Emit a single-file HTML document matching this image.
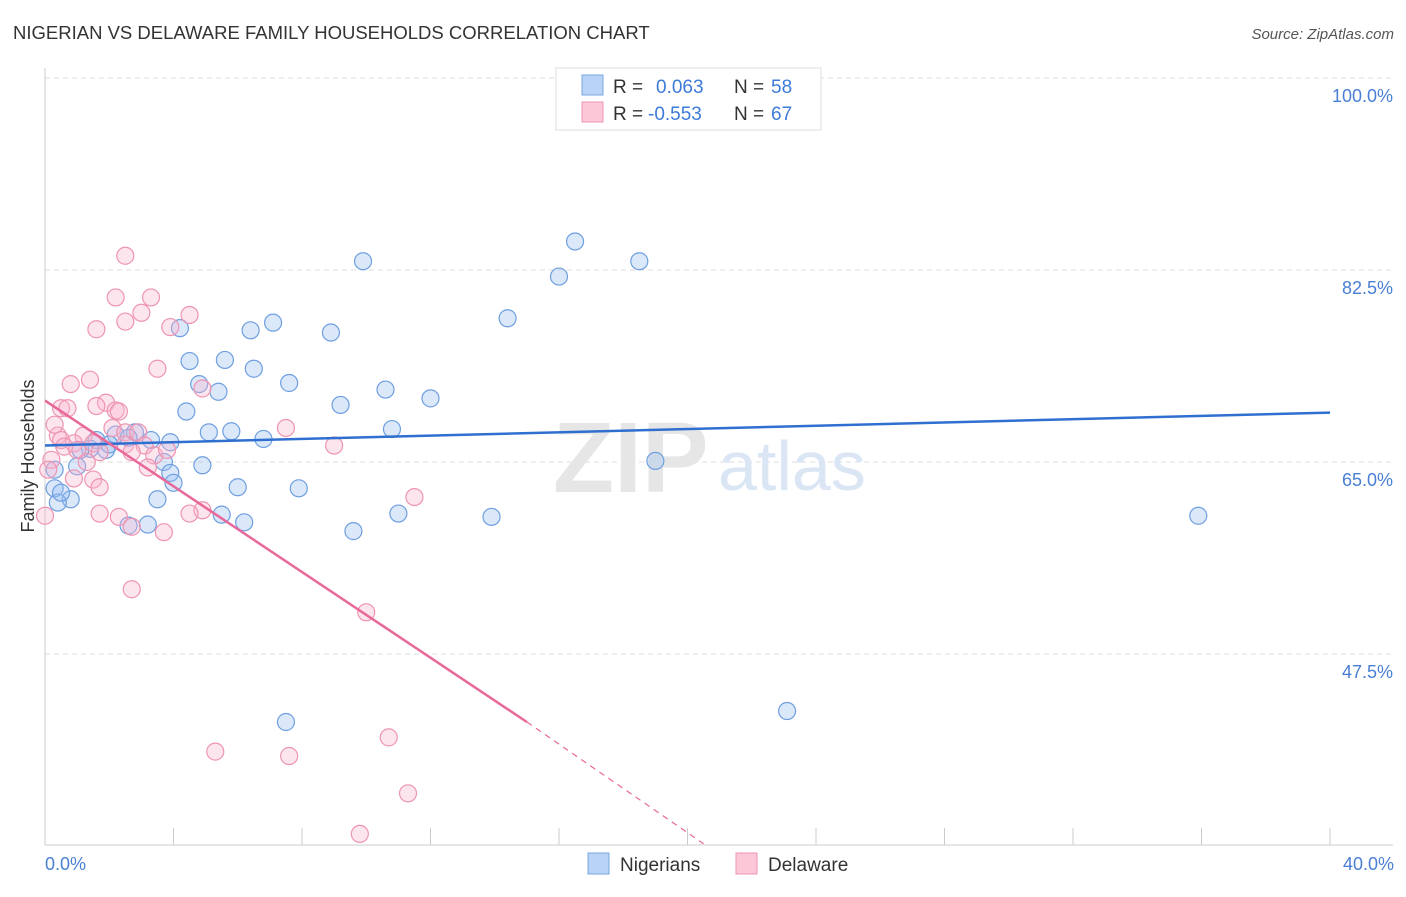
<!DOCTYPE html>
<html><head><meta charset="utf-8"><style>
body{margin:0;background:#fff;font-family:"Liberation Sans",sans-serif;}
svg text{font-family:"Liberation Sans",sans-serif;}
</style></head><body>
<svg id="chart" width="1406" height="892" xmlns="http://www.w3.org/2000/svg">
<text x="13" y="39" font-size="18.5" fill="#333">NIGERIAN VS DELAWARE FAMILY HOUSEHOLDS CORRELATION CHART</text>
<text x="1394" y="39" font-size="15" fill="#555" text-anchor="end" font-style="italic">Source: ZipAtlas.com</text>
<g id="grid"></g>
<text x="553" y="492" font-size="100" fill="#e6e6e6" font-family="Liberation Serif" font-weight="bold">ZIP</text>
<text x="718" y="490" font-size="70" fill="#dbe6f5">atlas</text>
<g id="marks"></g>
<text transform="translate(34,456) rotate(-90)" font-size="18" fill="#333" text-anchor="middle">Family Households</text>
<text x="45" y="870" font-size="18" fill="#4a7fd4">0.0%</text>
<text x="1394" y="870" font-size="18" fill="#4a7fd4" text-anchor="end">40.0%</text>
<g>
<rect x="556" y="68" width="265" height="62" fill="#fff" stroke="#ddd"/>
<rect x="582" y="75" width="21" height="20" fill="#b8d3f5" stroke="#7aa7e0"/>
<rect x="582" y="102" width="21" height="20" fill="#fcc8d8" stroke="#ee94b2"/>
<text x="613" y="93" font-size="19" fill="#333">R = </text><text x="656" y="93" font-size="19" fill="#3d7bd9">0.063</text>
<text x="734" y="93" font-size="19" fill="#333">N = </text><text x="771" y="93" font-size="19" fill="#3d7bd9">58</text>
<text x="613" y="120" font-size="19" fill="#333">R = </text><text x="648" y="120" font-size="19" fill="#3d7bd9">-0.553</text>
<text x="734" y="120" font-size="19" fill="#333">N = </text><text x="771" y="120" font-size="19" fill="#3d7bd9">67</text>
</g>
<g>
<rect x="588" y="853" width="21" height="21" fill="#b8d3f5" stroke="#7aa7e0"/>
<text x="620" y="871" font-size="19" fill="#333">Nigerians</text>
<rect x="736" y="853" width="21" height="21" fill="#fcc8d8" stroke="#ee94b2"/>
<text x="768" y="871" font-size="19" fill="#333">Delaware</text>
</g>
</svg>
<script>
const yTicks=[100,82.5,65,47.5];
const xTicks=[0,4,8,12,16,20,24,28,32,36,40];
const blueX=[16.5,18.5,9.9,16.0,14.4,4.2,6.4,7.1,8.9,4.5,5.6,6.5,4.8,7.6,5.4,10.6,12.0,9.2,4.4,10.8,5.1,5.8,6.8,3.9,3.3,2.8,2.2,1.6,1.9,1.4,3.7,4.9,3.9,1.0,0.3,4.0,6.0,7.9,0.3,0.8,0.4,3.5,5.5,6.2,11.0,13.9,2.6,3.2,9.6,19.0,35.9,7.5,23.1,2.0,1.1,0.5,2.6];
const blueY=[85.1,83.3,83.3,81.9,78.1,77.2,77.0,77.7,76.8,74.2,74.3,73.5,72.1,72.2,71.4,71.6,70.8,70.2,69.6,68.0,67.7,67.8,67.1,66.8,67.0,67.7,67.5,67.0,66.1,66.2,65.0,64.7,64.0,64.6,64.3,63.1,62.7,62.6,62.6,61.6,61.3,61.6,60.2,59.5,60.3,60.0,59.2,59.3,58.7,65.1,60.1,41.3,42.3,66.6,66.1,62.2,67.2];
const pinkX=[2.5,2.2,3.3,3.0,4.5,2.5,3.9,1.6,3.5,1.4,0.8,4.9,1.9,1.6,0.5,0.7,2.2,2.3,7.5,2.1,2.5,2.9,0.4,1.2,0.5,0.9,1.5,2.5,3.1,9.0,0.6,1.0,1.7,2.7,3.4,3.8,0.2,1.3,3.2,0.1,0.9,1.5,1.7,11.5,4.9,4.5,1.7,2.3,0.0,2.7,3.7,2.7,10.0,10.7,5.3,7.6,11.3,9.8,0.3];
const pinkY=[83.8,80.0,80.0,78.6,78.4,77.8,77.3,77.1,73.5,72.5,72.1,71.7,70.4,70.1,69.9,69.9,69.7,69.6,68.1,68.1,67.7,67.7,67.4,67.4,67.0,66.7,66.7,66.6,66.5,66.5,66.4,66.1,65.9,65.9,65.6,66.1,65.2,65.0,64.5,64.3,63.5,63.4,62.7,61.8,60.6,60.3,60.3,60.0,60.1,59.1,58.6,53.4,51.3,39.9,38.6,38.2,34.8,31.1,68.4];
const blueTrend=[66.5,69.5];
const pinkTrend=[70.6,41.3,30.2];
const pinkTrendX=[0,15,20.5];
const sx=v=>45+v/40*1285;
const sy=v=>78+(100-v)*10.971;
const NS="http://www.w3.org/2000/svg";
function mk(tag,attrs,parent){const e=document.createElementNS(NS,tag);for(const k in attrs)e.setAttribute(k,attrs[k]);parent.appendChild(e);return e;}
const grid=document.getElementById('grid');
yTicks.forEach(t=>{
 const l=mk('line',{x1:45,x2:1393,y1:sy(t),y2:sy(t),stroke:'#ddd','stroke-dasharray':'5,4'},grid);
 
 
 const tx=mk('text',{x:1393,y:sy(t)+24,'font-size':18,fill:'#4a7fd4','text-anchor':'end'},grid);
 tx.textContent=t.toFixed(1)+'%';
 
 
});
const ax=mk('line',{x1:45,x2:45,y1:68,y2:845,stroke:'#ccc'},grid);


const bx=mk('line',{x1:45,x2:1393,y1:845,y2:845,stroke:'#ccc'},grid);


xTicks.forEach(t=>{
 const l=mk('line',{x1:sx(t),x2:sx(t),y1:828,y2:845,stroke:'#ccc'},grid);
 
 
});
const marks=document.getElementById('marks');
blueX.forEach((x,i)=>{
 const c=mk('circle',{cx:sx(x),cy:sy(blueY[i]),r:8.5,fill:'rgba(150,190,240,0.35)',stroke:'#6f9fe0','stroke-width':1.2},marks);
 
 
});
pinkX.forEach((x,i)=>{
 const c=mk('circle',{cx:sx(x),cy:sy(pinkY[i]),r:8.5,fill:'rgba(250,180,205,0.35)',stroke:'#ee94b2','stroke-width':1.2},marks);
 
 
});
const bl=mk('line',{x1:sx(0),y1:sy(blueTrend[0]),x2:sx(40),y2:sy(blueTrend[1]),stroke:'#2f6fd0','stroke-width':2.5},marks);


const pl=mk('line',{x1:sx(pinkTrendX[0]),y1:sy(pinkTrend[0]),x2:sx(pinkTrendX[1]),y2:sy(pinkTrend[1]),stroke:'#e8689a','stroke-width':2.5},marks);


const pd=mk('line',{x1:sx(pinkTrendX[1]),y1:sy(pinkTrend[1]),x2:sx(pinkTrendX[2]),y2:sy(pinkTrend[2]),stroke:'#e8689a','stroke-width':1.2,'stroke-dasharray':'6,5'},marks);


</script>
</body></html>
